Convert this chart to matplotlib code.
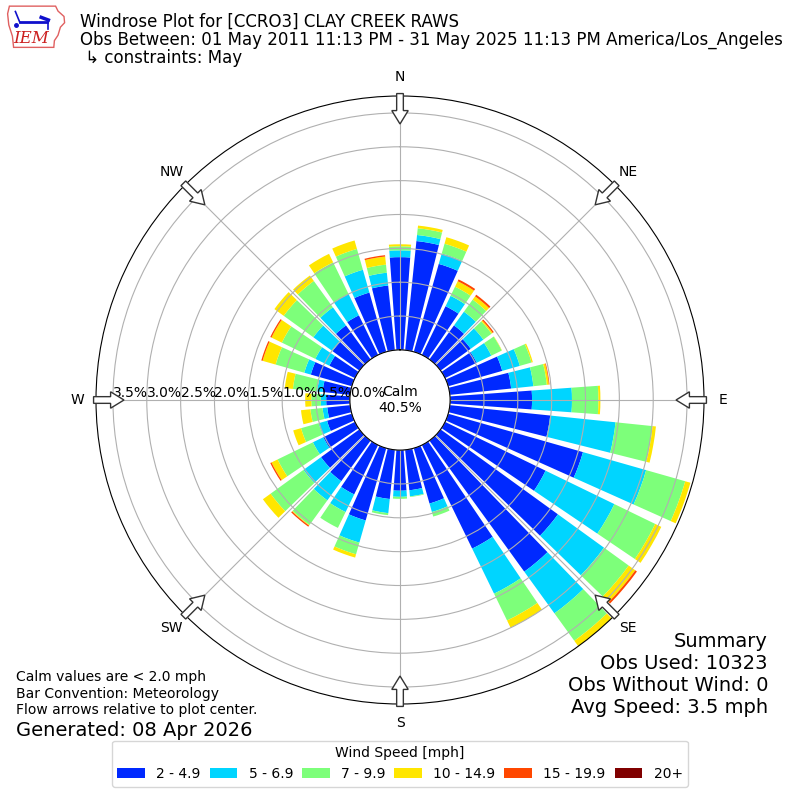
import numpy as np
import matplotlib
matplotlib.use("Agg")
import matplotlib.pyplot as plt
from matplotlib.patches import FancyArrow, Patch, Polygon

# direction bins (deg, meteorological) and percent frequency per speed class
directions = np.arange(0, 360, 10)
speed_labels = ["2 - 4.9", "5 - 6.9", "7 - 9.9", "10 - 14.9", "15 - 19.9", "20+"]

pct_2_5 = [1.37, 1.62, 1.35, 0.80, 0.62, 0.55, 0.52, 0.83, 0.91, 1.21, 1.49, 2.07,
           1.65, 2.14, 2.39, 1.70, 0.85, 0.60, 0.60, 0.73, 1.11, 0.81, 0.74, 0.70,
           0.52, 0.38, 0.34, 0.35, 0.41, 0.63, 0.42, 0.49, 0.62, 0.65, 0.91, 0.96]
pct_5_7 = [0.10, 0.09, 0.16, 0.17, 0.25, 0.23, 0.24, 0.27, 0.33, 0.59, 0.97, 0.97,
           1.13, 0.84, 0.76, 0.74, 0.13, 0.09, 0.09, 0.21, 0.34, 0.29, 0.35, 0.32,
           0.17, 0.13, 0.07, 0.08, 0.08, 0.10, 0.23, 0.35, 0.33, 0.35, 0.35, 0.19]
pct_7_10 = [0.06, 0.10, 0.15, 0.15, 0.22, 0.15, 0.17, 0.18, 0.20, 0.39, 0.55, 0.60,
            0.67, 0.45, 0.50, 0.44, 0.07, 0.01, 0.03, 0.03, 0.18, 0.26, 0.45, 0.60,
            0.58, 0.27, 0.18, 0.14, 0.36, 0.44, 0.55, 0.54, 0.48, 0.52, 0.32, 0.12]
pct_10_15 = [0.03, 0.04, 0.10, 0.09, 0.06, 0.02, 0.005, 0.02, 0.03, 0.03, 0.05, 0.08,
             0.10, 0.12, 0.10, 0.12, 0.0, 0.0, 0.0, 0.0, 0.05, 0.0, 0.01, 0.14,
             0.10, 0.12, 0.14, 0.09, 0.12, 0.20, 0.17, 0.17, 0.10, 0.14, 0.13, 0.12]
pct_15_20 = [0.0, 0.0, 0.0, 0.03, 0.03, 0.02, 0.0, 0.0, 0.01, 0.0, 0.0, 0.0,
             0.0, 0.03, 0.0, 0.0, 0.0, 0.0, 0.0, 0.0, 0.0, 0.0, 0.02, 0.0,
             0.02, 0.0, 0.0, 0.0, 0.0, 0.02, 0.02, 0.0, 0.0, 0.0, 0.0, 0.02]
pct_20p = [0.0] * 36

calm_pct = 40.5
compass = ["N", "NE", "E", "SE", "S", "SW", "W", "NW"]

title_lines = ["Windrose Plot for [CCRO3] CLAY CREEK RAWS",
               "Obs Between: 01 May 2011 11:13 PM - 31 May 2025 11:13 PM America/Los_Angeles",
               " \u21b3 constraints: May"]
summary_lines = ["Summary", "Obs Used: 10323", "Obs Without Wind: 0", "Avg Speed: 3.5 mph"]
notes = ["Calm values are < 2.0 mph", "Bar Convention: Meteorology",
         "Flow arrows relative to plot center."]

colors = plt.cm.jet(np.linspace(0, 1, 7)[1:])

fig = plt.figure(figsize=(8, 8), dpi=100)
ax = fig.add_axes([0.12, 0.12, 0.76, 0.76], projection="polar")
ax.set_theta_zero_location("N")
ax.set_theta_direction(-1)

theta = np.deg2rad(directions)
bottom = np.zeros(len(directions))
for vals, c in zip([pct_2_5, pct_5_7, pct_7_10, pct_10_15, pct_15_20, pct_20p], colors):
    vals = np.array(vals)
    ax.bar(theta, vals, width=np.deg2rad(8.2), bottom=bottom, color=c, lw=0)
    bottom += vals

ax.set_ylim(0, 3.75)
ax.set_rorigin(-0.74)
rt = np.arange(0, 3.51, 0.5)
ax.set_yticks(rt)
ax.set_yticklabels(["%.1f%%" % v for v in rt], fontsize=10)
ax.set_rlabel_position(270)
ax.set_xticks(np.deg2rad(np.arange(0, 360, 45)))
ax.set_xticklabels([])
ax.grid(True, color="#b0b0b0", lw=0.8)

ax.text(0.5, 0.5, "Calm\n%.1f%%" % calm_pct, transform=ax.transAxes,
        ha="center", va="center", fontsize=10)

# compass labels and flow arrows
for i, lab in enumerate(compass):
    a = np.deg2rad(i * 45)
    s, c = np.sin(a), np.cos(a)
    ax.text(0.5 + 0.531 * s, 0.5 + 0.531 * c, lab, transform=ax.transAxes,
            ha="center", va="center", fontsize=10)
    arr = FancyArrow(0.5 + 0.504 * s, 0.5 + 0.504 * c, -0.05 * s, -0.05 * c,
                     width=0.011, head_width=0.027, head_length=0.022,
                     length_includes_head=True, transform=ax.transAxes,
                     fc="white", ec="#333333", lw=1, clip_on=False, zorder=5)
    ax.add_patch(arr)

# header
fig.text(0.1, 0.984, "\n".join(title_lines), va="top", ha="left", fontsize=12,
         linespacing=1.0)

# IEM logo (rough)
lax = fig.add_axes([0.008, 0.938, 0.075, 0.056])
lax.set_xlim(0, 1)
lax.set_ylim(0, 1)
lax.axis("off")
iowa = [(0.05, 0.97), (0.82, 0.97), (0.86, 0.86), (0.96, 0.74), (0.97, 0.6),
        (0.9, 0.5), (0.86, 0.32), (0.8, 0.2), (0.79, 0.05), (0.12, 0.05),
        (0.1, 0.3), (0.04, 0.55), (0.02, 0.8)]
lax.add_patch(Polygon(iowa, closed=True, fc="white", ec="#e06060", lw=1))
lax.plot([0.22, 0.68], [0.62, 0.62], color="#1010cc", lw=2)
lax.plot([0.22, 0.15], [0.62, 0.85], color="#1010cc", lw=1.2)
lax.plot([0.58, 0.7], [0.72, 0.66], color="#1010cc", lw=2.5)
lax.plot([0.7, 0.7], [0.62, 0.45], color="#1010cc", lw=1.2)
lax.plot([0.16], [0.55], "o", color="#1010cc", ms=2.5)
lax.text(0.42, 0.24, "IEM", color="#cc2020", fontsize=12, family="serif",
         style="italic", ha="center", va="center")

# footnotes
fig.text(0.02, 0.104, "\n".join(notes), va="bottom", ha="left", fontsize=10)
fig.text(0.02, 0.075, "Generated: 08 Apr 2026", va="bottom", ha="left", fontsize=14)
fig.text(0.96, 0.104, "\n".join(summary_lines), va="bottom", ha="right",
         fontsize=14, multialignment="right")

handles = [Patch(facecolor=c) for c in colors]
fig.legend(handles, speed_labels, loc="lower center", bbox_to_anchor=(0.5, 0.008),
           ncol=6, title="Wind Speed [mph]", fontsize=10, title_fontsize=10,
           columnspacing=0.65, handletextpad=0.8)

fig.savefig("out.png", dpi=100)
